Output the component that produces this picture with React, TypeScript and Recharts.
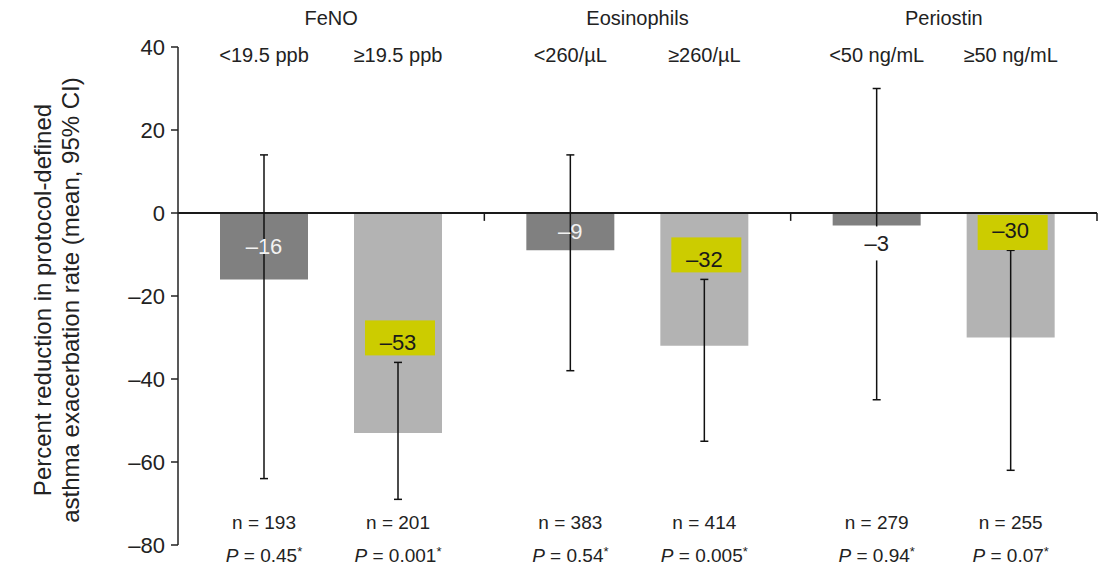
import React from "react";
import { BarChart, Bar, XAxis, YAxis, ErrorBar, ReferenceLine, LabelList, Label } from "recharts";

if (typeof document !== "undefined") {
  document.body.style.margin = "0";
}

// ---- data ----
const groups = ["FeNO", "Eosinophils", "Periostin"];
const lowLabels = ["<19.5 ppb", "<260/µL", "<50 ng/mL"];
const highLabels = ["≥19.5 ppb", "≥260/µL", "≥50 ng/mL"];
const lowMean = [-16, -9, -3];
const lowCiLower = [-64, -38, -45];
const lowCiUpper = [14, 14, 30];
const highMean = [-53, -32, -30];
const highCiLower = [-69, -55, -62];
const highCiUpper = [-36, -16, -9];
const lowN = [193, 383, 279];
const highN = [201, 414, 255];
const lowP = ["0.45", "0.54", "0.94"];
const highP = ["0.001", "0.005", "0.07"];
const yTicks = [-80, -60, -40, -20, 0, 20, 40];

const data = groups.map((g, i) => ({
  group: g,
  low: lowMean[i],
  lowErr: [lowMean[i] - lowCiLower[i], lowCiUpper[i] - lowMean[i]],
  high: highMean[i],
  highErr: [highMean[i] - highCiLower[i], highCiUpper[i] - highMean[i]],
}));

const FONT = "'Liberation Sans', Arial, Helvetica, sans-serif";
const TEXT = "#222";
const DARK = "#808080";
const LIGHT = "#b3b3b3";
const YELLOW = "#cccc00";

const fmt = (v: number) => (v < 0 ? "\u2013" + Math.abs(v) : String(v));

function geom(p: any) {
  const vb = p.viewBox || p;
  const x = Number(p.x ?? vb.x);
  const y = Number(p.y ?? vb.y);
  const w = Number(p.width ?? vb.width);
  const h = Number(p.height ?? vb.height);
  const top = Math.min(y, y + h);
  const bottom = Math.max(y, y + h);
  return { cx: x + w / 2, top, bottom, h: Math.abs(h) };
}

function BottomText({ cx, n, p }: { cx: number; n: number; p: string }) {
  return (
    <g fontFamily={FONT} fill={TEXT}>
      <text x={cx} y={529} textAnchor="middle" fontSize={19}>
        n = {n}
      </text>
      <text x={cx} y={562} textAnchor="middle" fontSize={19}>
        <tspan fontStyle="italic">P</tspan>
        <tspan> = {p}</tspan>
        <tspan fontSize={13} dy={-6}>*</tspan>
      </text>
    </g>
  );
}

const LowLabel = (props: any) => {
  const i = props.index;
  const { cx, top, bottom, h } = geom(props);
  const v = lowMean[i];
  const inside = h > 30;
  const ty = inside ? (top + bottom) / 2 : bottom + 18;
  return (
    <g>
      <text x={cx} y={62} textAnchor="middle" fontSize={20} fontFamily={FONT} fill={TEXT}>
        {lowLabels[i]}
      </text>
      {!inside && <rect x={cx - 18} y={ty - 17} width={36} height={34} fill="#fff" />}
      <text
        x={cx}
        y={ty}
        textAnchor="middle"
        dominantBaseline="central"
        fontSize={22}
        fontFamily={FONT}
        fill={inside ? "#f2f2f2" : TEXT}
      >
        {fmt(v)}
      </text>
      <BottomText cx={cx} n={lowN[i]} p={lowP[i]} />
    </g>
  );
};

const HighLabel = (props: any) => {
  const i = props.index;
  const { cx, top, h } = geom(props);
  const v = highMean[i];
  const pxPerUnit = h / Math.abs(v);
  const capY = top + Math.abs(highCiUpper[i]) * pxPerUnit;
  const ty = capY - 20;
  const boxTop = Math.max(ty - 22, top + 2);
  return (
    <g>
      <text x={cx} y={62} textAnchor="middle" fontSize={20} fontFamily={FONT} fill={TEXT}>
        {highLabels[i]}
      </text>
      <rect x={cx - 33} y={boxTop} width={70} height={35} fill={YELLOW} />
      <text
        x={cx}
        y={ty}
        textAnchor="middle"
        dominantBaseline="central"
        fontSize={22}
        fontFamily={FONT}
        fill="#1a1a1a"
      >
        {fmt(v)}
      </text>
      <BottomText cx={cx} n={highN[i]} p={highP[i]} />
    </g>
  );
};

const GroupTick = (props: any) => {
  const { x, payload } = props;
  return (
    <text x={x} y={25} textAnchor="middle" fontSize={20} fontFamily={FONT} fill={TEXT}>
      {payload.value}
    </text>
  );
};

const YLabel = () => {
  const cy = 300;
  return (
    <g fontFamily={FONT} fill={TEXT} fontSize={24}>
      <text x={42} y={cy} textAnchor="middle" dominantBaseline="central" transform={`rotate(-90, 42, ${cy})`}>
        Percent reduction in protocol-defined
      </text>
      <text x={70} y={cy} textAnchor="middle" dominantBaseline="central" transform={`rotate(-90, 70, ${cy})`}>
        asthma exacerbation rate (mean, 95% CI)
      </text>
    </g>
  );
};

export default function App() {
  return (
    <div style={{ width: 1109, height: 568, background: "#fff" }}>
      <BarChart
        width={1109}
        height={568}
        data={data}
        margin={{ top: 7, right: 12, bottom: 23, left: 0 }}
        barSize={88}
        barGap={46}
      >
        <XAxis
          dataKey="group"
          orientation="top"
          axisLine={false}
          tickLine={false}
          height={40}
          tick={<GroupTick />}
          interval={0}
        />
        <YAxis
          type="number"
          domain={[-80, 40]}
          ticks={yTicks}
          interval={0}
          width={178}
          tickSize={7}
          tickMargin={6}
          tickFormatter={fmt}
          axisLine={{ stroke: "#222", strokeWidth: 1.5 }}
          tickLine={{ stroke: "#222", strokeWidth: 1.5 }}
          tick={{ fontSize: 22, fontFamily: FONT, fill: TEXT }}
        >
          <Label content={<YLabel />} position="insideLeft" />
        </YAxis>
        <ReferenceLine y={0} stroke="#1a1a1a" strokeWidth={2} />
        {groups.slice(1).map((g) => (
          <ReferenceLine
            key={g}
            position="start"
            segment={[
              { x: g, y: 0 },
              { x: g, y: -1.9 },
            ]}
            stroke="#1a1a1a"
            strokeWidth={1.5}
          />
        ))}
        <ReferenceLine
          position="end"
          segment={[
            { x: groups[groups.length - 1], y: 0 },
            { x: groups[groups.length - 1], y: -1.9 },
          ]}
          stroke="#1a1a1a"
          strokeWidth={1.5}
        />
        <Bar dataKey="low" fill={DARK} isAnimationActive={false}>
          <ErrorBar dataKey="lowErr" direction="y" width={4} stroke="#111" strokeWidth={1.5} />
          <LabelList dataKey="low" content={<LowLabel />} />
        </Bar>
        <Bar dataKey="high" fill={LIGHT} isAnimationActive={false}>
          <ErrorBar dataKey="highErr" direction="y" width={4} stroke="#111" strokeWidth={1.5} />
          <LabelList dataKey="high" content={<HighLabel />} />
        </Bar>
      </BarChart>
    </div>
  );
}
